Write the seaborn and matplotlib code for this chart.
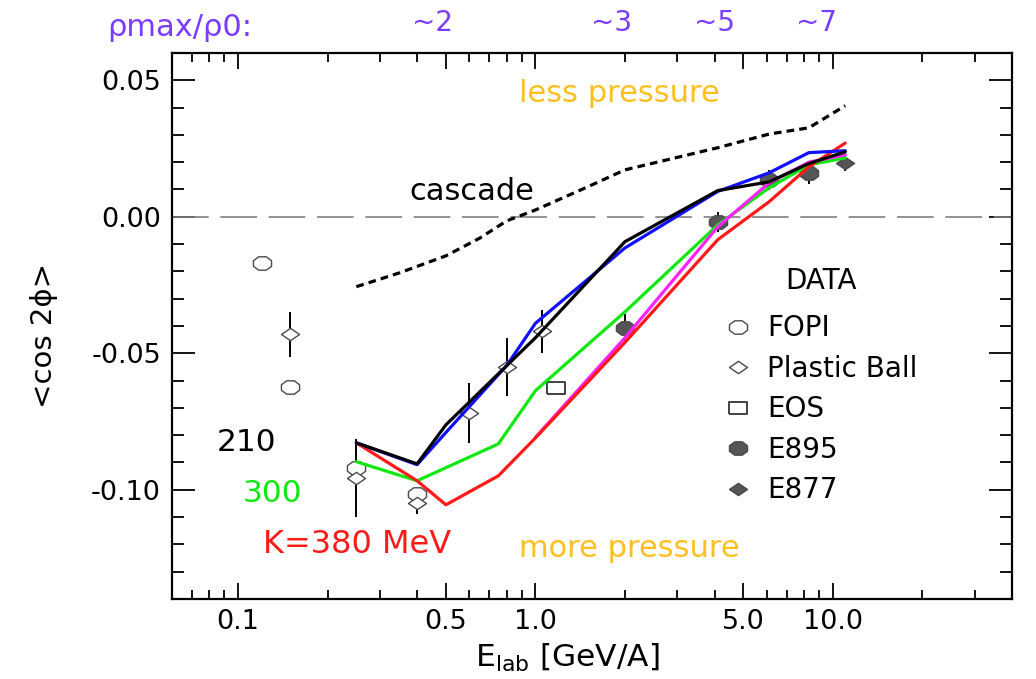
import numpy as np
import pandas as pd
import matplotlib
matplotlib.use("Agg")
import matplotlib.pyplot as plt
import matplotlib.transforms as mtransforms
from matplotlib.markers import MarkerStyle
from matplotlib.lines import Line2D
from matplotlib.ticker import FixedLocator, FixedFormatter, NullFormatter
import seaborn as sns

# ---------------- data ----------------
fopi_e = [0.12, 0.15, 0.25, 0.40]
fopi_v = [-0.0168, -0.0623, -0.0920, -0.1015]

pb_e = [0.15, 0.25, 0.40, 0.60, 0.80, 1.05]
pb_v = [-0.0430, -0.0956, -0.1050, -0.0720, -0.0550, -0.0420]
pb_err = [0.0083, 0.0143, 0.0040, 0.0110, 0.0105, 0.0080]

eos_e = [1.17]
eos_v = [-0.0627]

e895_e = [2.0, 4.1, 6.1, 8.3]
e895_v = [-0.0407, -0.0018, 0.0134, 0.0160]
e895_err = [0.0050, 0.0037, 0.0037, 0.0040]

e877_e = [11.0]
e877_v = [0.0198]
e877_err = [0.0030]

cascade_e = [0.25, 0.35, 0.5, 0.65, 0.8, 1.0, 1.5, 2.0, 4.1, 6.1, 8.3, 11.0]
cascade_v = [-0.0256, -0.0205, -0.0143, -0.0078, -0.0015, 0.0025, 0.0110,
             0.0172, 0.0253, 0.0303, 0.0326, 0.0407]

k210_e = [0.25, 0.4, 0.5, 1.0, 2.0, 4.1, 6.1, 8.3, 11.0]
k210_v = [-0.0828, -0.0905, -0.0762, -0.0443, -0.0091, 0.0096, 0.0128, 0.0195, 0.0238]

blue_e = [0.25, 0.4, 0.5, 0.8, 1.0, 2.0, 4.1, 6.1, 8.3, 11.0]
blue_v = [-0.0828, -0.0908, -0.0790, -0.0545, -0.0390, -0.0114, 0.0093, 0.0161, 0.0235, 0.0242]

k300_e = [0.25, 0.4, 0.75, 1.0, 2.0, 4.1, 6.1, 8.3, 11.0]
k300_v = [-0.0897, -0.0967, -0.0832, -0.0637, -0.0348, -0.0030, 0.0106, 0.0190, 0.0216]

k380_e = [0.25, 0.4, 0.5, 0.75, 1.0, 2.0, 4.1, 6.1, 8.3, 11.0]
k380_v = [-0.0828, -0.0967, -0.1055, -0.0949, -0.0810, -0.0460, -0.0084, 0.0055, 0.0183, 0.0270]

magenta_e = [1.0, 2.0, 4.1, 6.1, 8.3, 11.0]
magenta_v = [-0.0808, -0.0443, -0.0037, 0.0124, 0.0200, 0.0227]

density_e = [0.45, 1.8, 4.0, 8.8]
density_labels = ["~2", "~3", "~5", "~7"]

x_major = [0.1, 0.5, 1.0, 5.0, 10.0]
x_major_labels = ["0.1", "0.5", "1.0", "5.0", "10.0"]
x_minor = [0.07, 0.08, 0.09, 0.2, 0.3, 0.4, 0.6, 0.7, 0.8, 0.9,
           2, 3, 4, 6, 7, 8, 9, 20, 30]
y_major = [-0.10, -0.05, 0.0, 0.05]
y_major_labels = ["-0.10", "-0.05", "0.00", "0.05"]
y_minor = [-0.14, -0.13, -0.12, -0.11, -0.09, -0.08, -0.07, -0.06, -0.04, -0.03,
           -0.02, -0.01, 0.01, 0.02, 0.03, 0.04, 0.06]

# ---------------- style ----------------
sns.set_theme(style="ticks")
plt.rcParams["font.family"] = ["DejaVu Sans"]
plt.rcParams["mathtext.fontset"] = "dejavusans"
plt.rcParams["mathtext.default"] = "regular"
plt.rcParams["text.color"] = "black"

PURPLE = "#7b3cff"
ORANGE = "#ffbf1f"
GREEN = "#11e811"
RED = "#ff1a1a"
BLUE = "#1010ff"
MAGENTA = "#ff22ff"
EDGE = "#4a4a4a"
FILL = "#555555"

ang = np.deg2rad(22.5 + 45 * np.arange(9))
octagon = MarkerStyle(list(zip(np.cos(ang), 0.74 * np.sin(ang))))
diamond = MarkerStyle([(-1, 0), (0, 0.68), (1, 0), (0, -0.68), (-1, 0)])
rect = MarkerStyle([(-1, -0.66), (1, -0.66), (1, 0.66), (-1, 0.66), (-1, -0.66)])

fig = plt.figure(figsize=(10.36, 6.79), dpi=100)
ax = fig.add_axes([172 / 1036, 1 - 599 / 679, 840 / 1036, 546 / 679])
ax.set_xscale("log")
ax.set_xlim(0.06, 40)
ax.set_ylim(-0.14, 0.06)

ax.axhline(0.0, color="#808080", lw=1.2, dashes=(22, 7), zorder=1)

# error bars
for e, v, err in [(pb_e, pb_v, pb_err), (e895_e, e895_v, e895_err), (e877_e, e877_v, e877_err)]:
    ax.errorbar(e, v, yerr=err, fmt="none", ecolor="black", elinewidth=1.4, capsize=0, zorder=2)

MS = 170
sns.scatterplot(x=fopi_e, y=fopi_v, marker=octagon, s=MS, color="white",
                edgecolor=EDGE, linewidth=1.0, ax=ax, zorder=3)
sns.scatterplot(x=pb_e, y=pb_v, marker=diamond, s=MS, color="white",
                edgecolor=EDGE, linewidth=1.0, ax=ax, zorder=3)
sns.scatterplot(x=eos_e, y=eos_v, marker=rect, s=MS, color="white",
                edgecolor="#222222", linewidth=1.2, ax=ax, zorder=3)
sns.scatterplot(x=e895_e, y=e895_v, marker=octagon, s=MS, color=FILL,
                edgecolor=EDGE, linewidth=1.0, ax=ax, zorder=3)
sns.scatterplot(x=e877_e, y=e877_v, marker=diamond, s=MS, color=FILL,
                edgecolor=EDGE, linewidth=1.0, ax=ax, zorder=3)

# model curves
LW = 2.3
sns.lineplot(x=cascade_e, y=cascade_v, sort=False, estimator=None, color="black",
             lw=2.3, linestyle=(0, (2.4, 1.6)), ax=ax, zorder=4)
sns.lineplot(x=k300_e, y=k300_v, sort=False, estimator=None, color=GREEN, lw=LW, ax=ax, zorder=4)
sns.lineplot(x=magenta_e, y=magenta_v, sort=False, estimator=None, color=MAGENTA, lw=LW, ax=ax, zorder=4)
sns.lineplot(x=k380_e, y=k380_v, sort=False, estimator=None, color=RED, lw=LW, ax=ax, zorder=4)
sns.lineplot(x=blue_e, y=blue_v, sort=False, estimator=None, color=BLUE, lw=LW, ax=ax, zorder=4)
sns.lineplot(x=k210_e, y=k210_v, sort=False, estimator=None, color="black", lw=LW, ax=ax, zorder=4)

# ticks
ax.xaxis.set_major_locator(FixedLocator(x_major))
ax.xaxis.set_major_formatter(FixedFormatter(x_major_labels))
ax.xaxis.set_minor_locator(FixedLocator(x_minor))
ax.xaxis.set_minor_formatter(NullFormatter())
ax.yaxis.set_major_locator(FixedLocator(y_major))
ax.yaxis.set_major_formatter(FixedFormatter(y_major_labels))
ax.yaxis.set_minor_locator(FixedLocator(y_minor))
ax.tick_params(which="both", direction="in", top=True, right=True, color="black",
               width=1.3, labelsize=19.5, labelcolor="black")
ax.tick_params(axis="x", which="major", length=11.5, pad=7.5)
ax.tick_params(axis="x", which="minor", length=6.5)
ax.tick_params(axis="y", which="major", length=16.5, pad=8.0)
ax.tick_params(axis="y", which="minor", length=8.6)
for sp in ax.spines.values():
    sp.set_color("black")
    sp.set_linewidth(1.6)
ax.grid(False)

ax.set_xlabel("E$_{\\mathregular{lab}}$ [GeV/A]", fontsize=22.5, color="black")
ax.xaxis.set_label_coords(0.471, -0.078)
ax.set_ylabel("<cos 2ϕ>", fontsize=21, color="black")
ax.yaxis.set_label_coords(-0.136, 0.483)

# annotations
ax.text(0.613, 0.0062, "cascade", fontsize=22, color="black", ha="center", va="baseline")
ax.text(1.92, 0.0421, "less pressure", fontsize=22, color=ORANGE, ha="center", va="baseline")
ax.text(2.06, -0.1245, "more pressure", fontsize=22, color=ORANGE, ha="center", va="baseline")
ax.text(0.107, -0.0857, "210", fontsize=22.5, color="black", ha="center", va="baseline")
ax.text(0.131, -0.1044, "300", fontsize=22.5, color=GREEN, ha="center", va="baseline")
ax.text(0.251, -0.1231, "K=380 MeV", fontsize=23, color=RED, ha="center", va="baseline")

trans = mtransforms.blended_transform_factory(ax.transData, ax.transAxes)
for e, lab in zip(density_e, density_labels):
    ax.text(e, 1.055, lab, transform=trans, fontsize=20, color=PURPLE, ha="center", va="center")
fig.text(180 / 1036, 1 - 27 / 679, "ρmax/ρ0:", fontsize=22, color=PURPLE, ha="center", va="center")

# legend
handles = [
    Line2D([], [], ls="none", marker=octagon, ms=13, mfc="white", mec=EDGE, mew=1.0),
    Line2D([], [], ls="none", marker=diamond, ms=13, mfc="white", mec=EDGE, mew=1.0),
    Line2D([], [], ls="none", marker=rect, ms=13, mfc="white", mec="#222222", mew=1.2),
    Line2D([], [], ls="none", marker=octagon, ms=13, mfc=FILL, mec=EDGE, mew=1.0),
    Line2D([], [], ls="none", marker=diamond, ms=13, mfc=FILL, mec=EDGE, mew=1.0),
]
labels = ["FOPI", "Plastic Ball", "EOS", "E895", "E877"]
LEG_FS = 20
leg = ax.legend(handles, labels, title="DATA", loc="upper left", bbox_to_anchor=(0.657, 0.608),
                frameon=False, fontsize=LEG_FS, title_fontsize=LEG_FS, handlelength=1.0,
                handletextpad=0.55, labelspacing=0.45, borderpad=0, borderaxespad=0,
                labelcolor="black")
leg.get_title().set_color("black")
leg._legend_box.sep = 0.5 * LEG_FS * 100 / 72

fig.savefig("out.png", dpi=100, facecolor="white")
